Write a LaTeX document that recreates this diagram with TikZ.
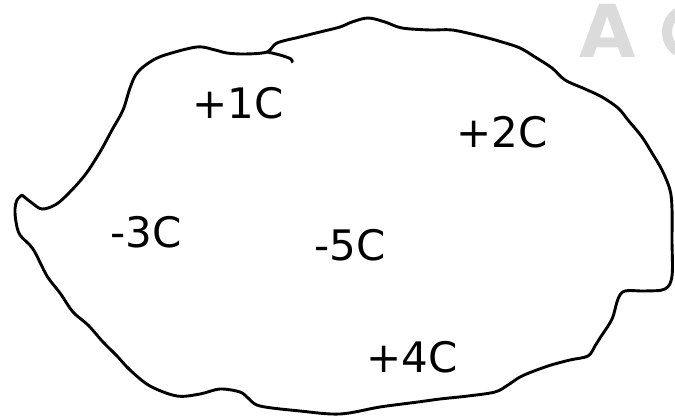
\documentclass[tikz,border=0pt]{standalone}
\usepackage{fontspec}
\setmainfont{DejaVu Sans}
\newfontfamily\wmfont{DejaVu Sans}
\begin{document}
\begin{tikzpicture}[x=1pt,y=-1pt,
  outline/.style={line width=2.9pt,line join=round,line cap=round,black},
  charge/.style={inner sep=0pt,font=\fontsize{42}{42}\selectfont},
  wm/.style={inner sep=0pt,anchor=base west,text=black!14,font=\wmfont\bfseries\fontsize{73}{73}\selectfont}]
\useasboundingbox (0,0) rectangle (675,419);
\node[wm] (wmark) at (579,58) {A};
\draw[line width=10pt,black!14] ([shift={(120:23)}]690,32) arc[start angle=120,end angle=240,radius=23];
\draw[outline] plot[smooth,tension=0.55] coordinates {
 (22,195) (32,203) (42,209) (55,205) (67,195) (85,175) (100,152) (112,130)
 (123,110) (130,88) (137,73) (150,62) (165,55) (197,47) (215,50) (227,53)
 (245,54) (267,52) (277,43) (300,37) (320,32) (340,27) (352,22) (368,18)
 (385,22) (402,28) (430,30) (452,30) (480,36) (502,42) (520,48) (535,57)
 (552,68) (565,80) (585,89) (602,97) (618,108) (628,120) (642,137) (652,153)
 (662,170) (670,190) (672,209) (672,240) (672,276) (665,289) (645,291) (625,291)
 (618,299) (612,319) (600,338) (595,346) (588,356) (570,360) (548,366) (522,376)
 (508,385) (495,392) (468,396) (440,399) (418,402) (380,407) (340,414) (300,411)
 (260,406) (248,398) (240,392) (220,389) (200,394) (177,396) (150,386) (130,370)
 (117,356) (103,342) (88,325) (73,312) (60,293) (47,276) (33,249) (20,235)
 (16,222) (15,209) (17,200) (22,195)};
\draw[outline] plot[smooth,tension=0.6] coordinates {(267,52) (280,55) (291,59) (292,62)};
\node[charge] (q1) at (238,103) {+1C};
\node[charge] (q2) at (502,132) {+2C};
\node[charge] (q3) at (146,232) {-3C};
\node[charge] (q5) at (350,245) {-5C};
\node[charge] (q4) at (412,357) {+4C};
\end{tikzpicture}
\end{document}
